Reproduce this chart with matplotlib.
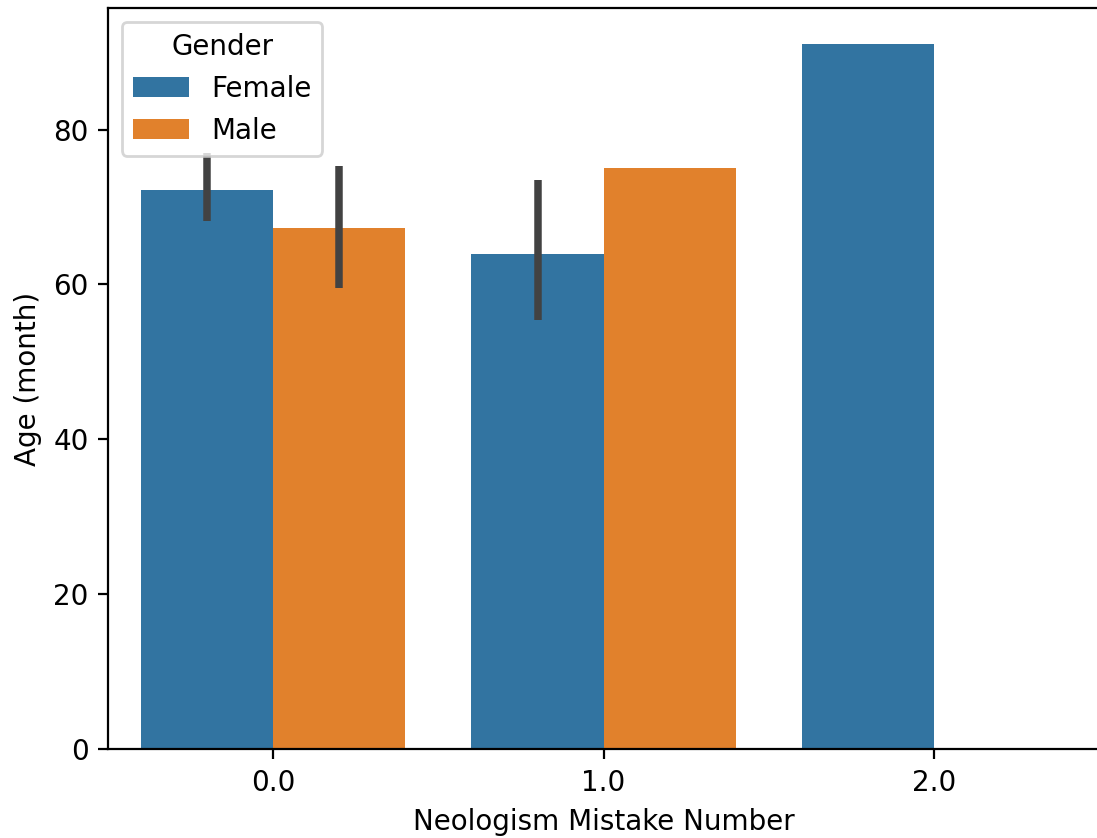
import matplotlib
matplotlib.use("Agg")
import matplotlib.pyplot as plt
import numpy as np

categories = ["0.0", "1.0", "2.0"]
genders = ["Female", "Male"]
female_mean = [72.2, 63.9, 91.1]
male_mean = [67.3, 75.1, np.nan]
female_ci_low = [68.2, 55.4, np.nan]
female_ci_high = [77.0, 73.5, np.nan]
male_ci_low = [59.5, np.nan, np.nan]
male_ci_high = [75.3, np.nan, np.nan]

colors = ["#3274a1", "#e1812c"]
err_color = "#424242"

fig = plt.figure(figsize=(5.485, 4.19), dpi=200)
ax = fig.add_axes([0.0985, 0.106, 0.9035, 0.8845])

x = np.arange(len(categories))
w = 0.4
means = [female_mean, male_mean]
lows = [female_ci_low, male_ci_low]
highs = [female_ci_high, male_ci_high]
for i, g in enumerate(genders):
    offs = x + (i - 0.5) * w
    vals = np.array(means[i], dtype=float)
    mask = ~np.isnan(vals)
    ax.bar(offs[mask], vals[mask], width=w, color=colors[i], label=g, zorder=2)
    lo = np.array(lows[i], dtype=float)
    hi = np.array(highs[i], dtype=float)
    m2 = ~np.isnan(lo)
    ax.vlines(offs[m2], lo[m2], hi[m2], color=err_color, linewidth=2.7, zorder=3)

ax.set_xticks(x)
ax.set_xticklabels(categories)
ax.set_xlim(-0.5, 2.5)
ax.set_ylim(0, 95.7)
ax.set_yticks([0, 20, 40, 60, 80])
ax.set_xlabel("Neologism Mistake Number")
ax.set_ylabel("Age (month)")
ax.legend(title="Gender", loc="upper left")

fig.savefig("out.png", dpi=200)
